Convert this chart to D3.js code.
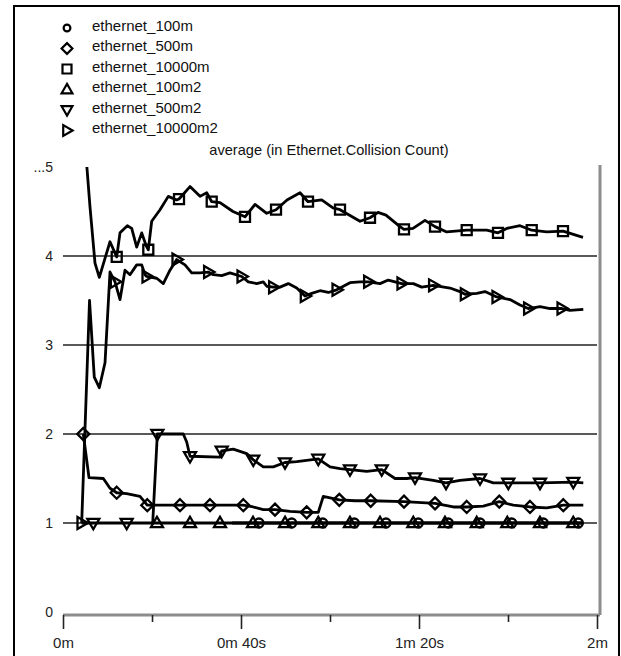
<!DOCTYPE html>
<html>
<head>
<meta charset="utf-8">
<script src="https://cdn.jsdelivr.net/npm/d3@7"></script>
<style>
  body { margin: 0; background: #fff; }
  svg { display: block; font-family: "Liberation Sans", Arial, Helvetica, sans-serif; }
</style>
</head>
<body>
<div id="chart"></div>
<script>
// series names, in legend order
const seriesNames = ["ethernet_100m", "ethernet_500m", "ethernet_10000m",
                     "ethernet_100m2", "ethernet_500m2", "ethernet_10000m2"];
const seriesSymbols = ["circle", "diamond", "square", "triUp", "triDown", "triRight"];

// points: [time in s, average collision count, 1 = marker drawn here]
const s100m = [[38, 1.0], [44.04, 1.0, 1], [51.39, 1.0, 1], [58.36, 1.0, 1], [65.46, 1.0, 1],
  [72.58, 1.0, 1], [79.84, 1.0, 1], [86.58, 1.0, 1], [93.71, 1.0, 1], [100.83, 1.0, 1],
  [107.93, 1.0, 1], [115.8, 1.0, 1], [116.9, 1.0]];

const s500m = [[4.56, 2.0, 1], [5.84, 1.51], [9.06, 1.5], [10.56, 1.39], [12.07, 1.34, 1],
  [14.31, 1.33], [17.3, 1.3], [18.94, 1.2, 1], [21.06, 1.2], [26.29, 1.2, 1], [33.03, 1.2, 1],
  [40.52, 1.2, 1], [42.76, 1.18], [45.01, 1.15], [47.64, 1.15, 1], [51.01, 1.13],
  [54.76, 1.12, 1], [57.37, 1.12], [58.49, 1.3], [62.09, 1.26, 1], [65.62, 1.25],
  [69.15, 1.25, 1], [76.63, 1.24, 1], [83.6, 1.22, 1], [87.71, 1.18], [90.72, 1.18, 1],
  [94.45, 1.19], [98.04, 1.24, 1], [101.19, 1.2], [104.94, 1.18, 1], [108.7, 1.17],
  [112.43, 1.2, 1], [116.92, 1.2]];

const s10000m = [[4.9, 5.3, 1], [6.07, 4.55], [7.19, 3.92], [8.16, 3.76], [10.56, 4.16],
  [12.07, 3.99, 1], [12.81, 4.26], [14.45, 4.34], [15.44, 4.31], [16.56, 4.1], [17.69, 4.26],
  [18.65, 4.12], [19.17, 4.07, 1], [19.93, 4.39], [21.8, 4.52], [23.66, 4.67], [25.55, 4.63],
  [26.07, 4.64, 1], [28.54, 4.78], [30.79, 4.67], [32.29, 4.71], [33.42, 4.61, 1], [35.28, 4.6],
  [38.2, 4.5], [40.9, 4.44, 1], [43.15, 4.58], [45.78, 4.48], [47.87, 4.52, 1], [50.34, 4.63],
  [53.26, 4.71], [55.06, 4.61, 1], [58.13, 4.63], [60.67, 4.54], [62.25, 4.52, 1], [66.74, 4.39],
  [68.99, 4.43, 1], [70.79, 4.49], [72.58, 4.46], [75.73, 4.33], [76.63, 4.3, 1], [78.65, 4.31],
  [81.35, 4.4], [83.6, 4.33, 1], [86.22, 4.27], [90.72, 4.29, 1], [95.21, 4.29], [97.75, 4.26, 1],
  [99.71, 4.31], [102.7, 4.34], [105.33, 4.29, 1], [108.7, 4.27], [112.36, 4.28, 1], [116.85, 4.21]];

const s100m2 = [[20.2, 1.0], [21.12, 1.0, 1], [28.54, 1.0, 1], [35.28, 1.0, 1], [42.7, 1.0, 1],
  [49.9, 1.0, 1], [57.37, 1.0, 1], [64.49, 1.0, 1], [71.24, 1.0, 1], [78.72, 1.0, 1],
  [85.84, 1.0, 1], [92.97, 1.0, 1], [99.84, 1.0, 1], [107.19, 1.0, 1], [114.67, 1.0, 1], [116.9, 1.0]];

const s500m2 = [[4.2, 1.0], [6.81, 1.0, 1], [14.31, 1.0, 1], [20.16, 1.0], [21.2, 2.0, 1],
  [27.03, 2.0], [27.8, 1.91], [28.54, 1.75, 1], [35.28, 1.74], [35.66, 1.81, 1], [38.27, 1.83],
  [41.28, 1.78], [42.76, 1.71, 1], [45.01, 1.63], [47.26, 1.63], [49.89, 1.68, 1], [52.52, 1.69],
  [57.37, 1.72, 1], [60.0, 1.63], [62.25, 1.61], [64.49, 1.6, 1], [68.25, 1.58], [71.62, 1.6, 1],
  [74.61, 1.5], [77.24, 1.5], [79.1, 1.51, 1], [83.21, 1.48], [86.07, 1.45, 1], [89.21, 1.48],
  [93.71, 1.5, 1], [96.7, 1.45], [100.07, 1.45, 1], [107.19, 1.45, 1], [114.67, 1.46, 1],
  [116.92, 1.45]];

const s10000m2 = [[4.2, 1.0, 1], [5.96, 3.5], [7.03, 2.64], [8.16, 2.52], [9.44, 2.8],
  [10.56, 3.82], [11.69, 3.71, 1], [12.81, 3.51], [13.93, 3.84], [15.06, 3.79], [16.56, 3.9],
  [17.69, 3.9], [18.43, 3.79], [18.81, 3.77, 1], [21.06, 3.75], [22.54, 3.69], [24.04, 3.84],
  [25.55, 3.96, 1], [27.42, 3.9], [28.92, 3.81], [30.79, 3.81], [32.65, 3.82, 1], [33.78, 3.79],
  [35.66, 3.78], [37.53, 3.81], [40.16, 3.77, 1], [41.64, 3.71], [43.53, 3.69], [45.01, 3.71],
  [45.78, 3.66], [47.26, 3.65, 1], [48.76, 3.65], [50.63, 3.69], [52.52, 3.64], [54.38, 3.55, 1],
  [55.89, 3.58], [57.75, 3.61], [59.62, 3.59], [61.51, 3.62, 1], [64.49, 3.7], [66.74, 3.71],
  [68.61, 3.71, 1], [71.24, 3.69], [73.1, 3.73], [76.11, 3.69, 1], [78.72, 3.69], [80.61, 3.65],
  [83.21, 3.67, 1], [86.97, 3.64], [89.21, 3.6], [90.34, 3.57, 1], [92.97, 3.58], [94.83, 3.6],
  [97.46, 3.54, 1], [100.45, 3.51], [102.7, 3.45], [104.56, 3.41, 1], [107.19, 3.43],
  [109.44, 3.41], [112.07, 3.41, 1], [113.93, 3.39], [116.92, 3.4]];

const seriesData = [s100m, s500m, s10000m, s100m2, s500m2, s10000m2];

// axis ticks
const yTicks = [0, 1, 2, 3, 4, 5];
const yTickLabels = ["0", "1", "2", "3", "4", "...5"];
const yGrid = [1, 2, 3, 4];
const xMajor = [0, 40, 80, 120];
const xMajorLabels = ["0m", "0m 40s", "1m 20s", "2m"];
const xMinor = [20, 60, 100];
const chartTitle = "average (in Ethernet.Collision Count)";

const W = 621, H = 656;
const svg = d3.select("#chart").append("svg").attr("width", W).attr("height", H);

// outer frame
svg.append("rect")
  .attr("x", 14).attr("y", 6).attr("width", 605).attr("height", 680)
  .attr("fill", "none").attr("stroke", "#000").attr("stroke-width", 2);

const x = d3.scaleLinear().domain([0, 120]).range([63, 597]);
const y = d3.scaleLinear().domain([0, 5]).range([612, 167]);
const plotRight = 600, plotTop = 165, axisY = 615;

// marker shapes, centred on 0,0
function symbolPath(kind, s) {
  switch (kind) {
    case "circle":
      return d3.symbol(d3.symbolCircle, Math.PI * (s * 0.45) * (s * 0.45))();
    case "diamond":
      return `M0,${-s * 0.6}L${s * 0.6},0L0,${s * 0.6}L${-s * 0.6},0Z`;
    case "square":
      return d3.symbol(d3.symbolSquare, s * s)();
    case "triUp":
      return `M0,${-s * 0.62}L${s * 0.6},${s * 0.42}L${-s * 0.6},${s * 0.42}Z`;
    case "triDown":
      return `M0,${s * 0.62}L${s * 0.6},${-s * 0.42}L${-s * 0.6},${-s * 0.42}Z`;
    case "triRight":
      return `M${s * 0.62},0L${-s * 0.42},${s * 0.6}L${-s * 0.42},${-s * 0.6}Z`;
  }
}

// gridlines
svg.append("g")
  .selectAll("line")
  .data(yGrid)
  .join("line")
  .attr("x1", x(0)).attr("x2", x(120))
  .attr("y1", d => y(d)).attr("y2", d => y(d))
  .attr("stroke", "#222").attr("stroke-width", 1.6);

// y labels
svg.append("g")
  .attr("font-size", 14)
  .attr("fill", "#222")
  .selectAll("text")
  .data(yTicks)
  .join("text")
  .attr("x", 53)
  .attr("y", d => y(d))
  .attr("dy", "0.35em")
  .attr("text-anchor", "end")
  .text((d, i) => yTickLabels[i]);

// gray frame on the right and bottom
svg.append("line")
  .attr("x1", plotRight).attr("x2", plotRight)
  .attr("y1", plotTop).attr("y2", axisY)
  .attr("stroke", "#8c8c8c").attr("stroke-width", 3);
svg.append("line")
  .attr("x1", x(0)).attr("x2", plotRight)
  .attr("y1", axisY).attr("y2", axisY)
  .attr("stroke", "#8c8c8c").attr("stroke-width", 3);

// x axis ticks
const xAxis = svg.append("g")
  .attr("transform", `translate(0,${axisY})`)
  .call(d3.axisBottom(x).tickValues(xMajor).tickSize(14).tickSizeOuter(0)
    .tickFormat((d, i) => xMajorLabels[i]));
xAxis.select(".domain").remove();
xAxis.selectAll(".tick line").attr("stroke", "#222").attr("stroke-width", 1.6);
xAxis.selectAll(".tick text")
  .attr("font-family", null).attr("font-size", 15).attr("fill", "#222").attr("dy", "1.05em");

const xMinorAxis = svg.append("g")
  .attr("transform", `translate(0,${axisY})`)
  .call(d3.axisBottom(x).tickValues(xMinor).tickSize(7).tickFormat(""));
xMinorAxis.select(".domain").remove();
xMinorAxis.selectAll(".tick line").attr("stroke", "#222").attr("stroke-width", 1.6);

// title
svg.append("text")
  .attr("x", 329).attr("y", 150)
  .attr("dy", "0.35em")
  .attr("text-anchor", "middle")
  .attr("font-size", 14.6)
  .attr("fill", "#111")
  .text(chartTitle);

// clip for the lines
svg.append("clipPath").attr("id", "plotclip")
  .append("rect").attr("x", x(0)).attr("y", y(5)).attr("width", plotRight - x(0)).attr("height", axisY - y(5));

const plot = svg.append("g").attr("clip-path", "url(#plotclip)");
const line = d3.line().x(d => x(d[0])).y(d => y(d[1]));

seriesData.forEach((pts, si) => {
  const g = plot.append("g");
  g.append("path")
    .datum(pts)
    .attr("d", line)
    .attr("fill", "none")
    .attr("stroke", "#000")
    .attr("stroke-width", 2.8)
    .attr("stroke-linejoin", "round");
  g.selectAll("path.mk")
    .data(pts.filter(d => d[2]))
    .join("path")
    .attr("class", "mk")
    .attr("transform", d => `translate(${x(d[0])},${y(d[1])})`)
    .attr("d", symbolPath(seriesSymbols[si], 10))
    .attr("fill", "none")
    .attr("stroke", "#000")
    .attr("stroke-width", 2.3);
});

// legend
const legend = svg.append("g")
  .selectAll("g")
  .data(seriesNames)
  .join("g")
  .attr("transform", (d, i) => `translate(0,${25.5 + i * 20.5})`);
legend.append("path")
  .attr("transform", "translate(67,2.5)")
  .attr("d", (d, i) => symbolPath(seriesSymbols[i], i === 0 ? 7.5 : 9))
  .attr("fill", "none").attr("stroke", "#000").attr("stroke-width", 2.2);
legend.append("text")
  .attr("x", 92).attr("dy", "0.35em")
  .attr("font-size", 15).attr("fill", "#111")
  .text(d => d);
</script>
</body>
</html>
